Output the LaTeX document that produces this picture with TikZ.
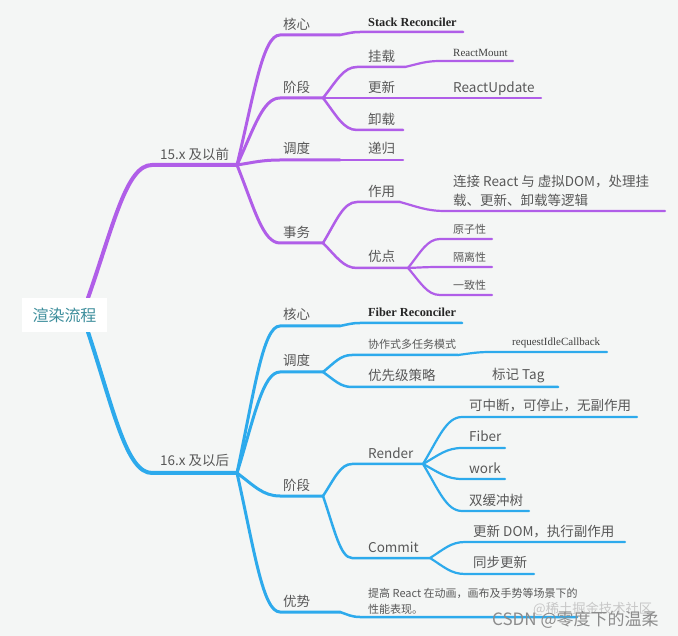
\documentclass[tikz,border=0pt]{standalone}
\usepackage{fontspec}
\setmainfont{Noto Sans CJK SC}
\newfontfamily\cjkf{Noto Sans CJK SC}
\newfontfamily\latserif{Liberation Serif}
\usetikzlibrary{calc}
\definecolor{pur}{HTML}{B05EE8}
\definecolor{blu}{HTML}{2DAAEC}
\definecolor{bgc}{HTML}{F4F6F5}
\definecolor{txt}{HTML}{585858}
\definecolor{rootc}{HTML}{3D8E9C}
\tikzset{
  mm/.style={to path={let \p1=(\tikztostart),\p2=(\tikztotarget) in
     .. controls ({\x1+0.4*(\x2-\x1)},{\y1+0.55*(\y2-\y1)}) and ({\x1+0.6*(\x2-\x1)},\y2) .. (\tikztotarget)}},
  ln/.style={line cap=round, line join=round},
  w0/.style={ln, line width=4pt},
  w1/.style={ln, line width=3pt},
  w2/.style={ln, line width=2.5pt},
  w3/.style={ln, line width=2.2pt},
  lab/.style={anchor=base west, inner sep=0pt, text=txt, font=\cjkf\fontsize{13.5}{16}\selectfont},
  slab/.style={lab, font=\cjkf\fontsize{11}{14}\selectfont},
  bser/.style={anchor=base west, inner sep=0pt, text=black!85, font=\latserif\bfseries\fontsize{12.3}{14}\selectfont},
  rser/.style={anchor=base west, inner sep=0pt, text=black!75, font=\latserif\fontsize{11}{13}\selectfont},
  rootbox/.style={fill=white, minimum width=85pt, minimum height=34pt, inner sep=0pt, text=rootc, font=\cjkf\fontsize{16}{18}\selectfont}
}
\begin{document}
\begin{tikzpicture}[x=1pt,y=-1pt]
\useasboundingbox (0,0) rectangle (678,636);
\fill[bgc] (0,0) rectangle (678,636);

% ---------- coordinates ----------
\coordinate (rt) at (88,298);
\coordinate (rb) at (88,332);
% purple
\coordinate (v1s) at (152,165); \coordinate (v1e) at (237,165);
\coordinate (pk1) at (280,35);  \coordinate (pk2) at (340,35);
\coordinate (pk3) at (360,32);  \coordinate (pk4) at (463,32);
\coordinate (pj1) at (280,98);  \coordinate (pj2) at (323,98);
\coordinate (gz1) at (357,67);  \coordinate (gz2) at (405,67);
\coordinate (rm1) at (440,61);  \coordinate (rm2) at (513,61);
\coordinate (gx2) at (403,98);  \coordinate (ru2) at (541,98);
\coordinate (xz1) at (357,130); \coordinate (xz2) at (403,130);
\coordinate (pd1) at (280,160); \coordinate (pd2) at (340,160); \coordinate (dg2) at (403,160);
\coordinate (sw1) at (280,243); \coordinate (sw2) at (323,243);
\coordinate (zy1) at (357,202); \coordinate (zy2) at (400,202);
\coordinate (lj1) at (445,211); \coordinate (lj2) at (665,211);
\coordinate (yd1) at (357,268); \coordinate (yd2) at (408,268);
\coordinate (yz1) at (440,239); \coordinate (yz2) at (492,239);
\coordinate (gl1) at (440,267); \coordinate (gl2) at (492,267);
\coordinate (yx1) at (440,295); \coordinate (yx2) at (492,295);
% blue
\coordinate (v2s) at (152,473); \coordinate (v2e) at (237,473);
\coordinate (bk1) at (280,326); \coordinate (bk2) at (340,326);
\coordinate (bk3) at (360,323); \coordinate (bk4) at (462,323);
\coordinate (bd1) at (280,372); \coordinate (bd2) at (323,372);
\coordinate (xz3) at (352,355); \coordinate (xz4) at (458,355);
\coordinate (ric1) at (490,352); \coordinate (ric2) at (607,352);
\coordinate (yx3) at (352,387); \coordinate (yx4) at (558,387);
\coordinate (bj1) at (280,496); \coordinate (bj2) at (323,496);
\coordinate (rd1) at (352,464); \coordinate (rd2) at (423,464);
\coordinate (kz1) at (462,417); \coordinate (kz2) at (637,417);
\coordinate (fb1) at (462,448); \coordinate (fb2) at (505,448);
\coordinate (wk1) at (462,479); \coordinate (wk2) at (505,479);
\coordinate (sh1) at (462,511); \coordinate (sh2) at (529,511);
\coordinate (cm1) at (352,558); \coordinate (cm2) at (430,558);
\coordinate (ud1) at (465,542); \coordinate (ud2) at (625,542);
\coordinate (tb1) at (465,574); \coordinate (tb2) at (534,574);
\coordinate (ys1) at (280,612); \coordinate (ys2) at (340,612);
\coordinate (tg1) at (360,617); \coordinate (tg2) at (577,617);

% ---------- purple connectors ----------
\begin{scope}[draw=pur]
\draw[w0] (rt) to[mm] (v1s) -- (v1e);
\draw[w1] (v1e) to[mm] (pk1) -- (pk2);
\draw[w2] (pk2) to[mm] (pk3) -- (pk4);
\draw[w1] (v1e) to[mm] (pj1) -- (pj2);
\draw[w2] (pj2) to[mm] (gz1) -- (gz2);
\draw[w3] (gz2) to[mm] (rm1) -- (rm2);
\draw[w2] (pj2) -- (gx2);
\draw[w3] (gx2) -- (ru2);
\draw[w2] (pj2) to[mm] (xz1) -- (xz2);
\draw[w1] (v1e) to[mm] (pd1) -- (pd2);
\draw[w2] (pd2) -- (dg2);
\draw[w1] (v1e) to[mm] (sw1) -- (sw2);
\draw[w2] (sw2) to[mm] (zy1) -- (zy2);
\draw[w3] (zy2) to[mm] (lj1) -- (lj2);
\draw[w2] (sw2) to[mm] (yd1) -- (yd2);
\draw[w3] (yd2) to[mm] (yz1) -- (yz2);
\draw[w3] (yd2) to[mm] (gl1) -- (gl2);
\draw[w3] (yd2) to[mm] (yx1) -- (yx2);
\end{scope}

% ---------- blue connectors ----------
\begin{scope}[draw=blu]
\draw[w0] (rb) to[mm] (v2s) -- (v2e);
\draw[w1] (v2e) to[mm] (bk1) -- (bk2);
\draw[w2] (bk2) to[mm] (bk3) -- (bk4);
\draw[w1] (v2e) to[mm] (bd1) -- (bd2);
\draw[w2] (bd2) to[mm] (xz3) -- (xz4);
\draw[w3] (xz4) to[mm] (ric1) -- (ric2);
\draw[w2] (bd2) to[mm] (yx3) -- (yx4);
\draw[w1] (v2e) to[mm] (bj1) -- (bj2);
\draw[w2] (bj2) to[mm] (rd1) -- (rd2);
\draw[w3] (rd2) to[mm] (kz1) -- (kz2);
\draw[w3] (rd2) to[mm] (fb1) -- (fb2);
\draw[w3] (rd2) to[mm] (wk1) -- (wk2);
\draw[w3] (rd2) to[mm] (sh1) -- (sh2);
\draw[w2] (bj2) to[mm] (cm1) -- (cm2);
\draw[w3] (cm2) to[mm] (ud1) -- (ud2);
\draw[w3] (cm2) to[mm] (tb1) -- (tb2);
\draw[w1] (v2e) to[mm] (ys1) -- (ys2);
\draw[w2] (ys2) to[mm] (tg1) -- (tg2);
\end{scope}

% ---------- root ----------
\node[rootbox] (root) at (64.5,315) {渲染流程};

% ---------- purple labels ----------
\node[lab] (t15) at (160,160) {15.x 及以前};
\node[lab] (pcore) at (283,30) {核心};
\node[bser] (stack) at (368,27) {Stack Reconciler};
\node[lab] (pstage) at (283,93) {阶段};
\node[lab] (mount) at (368,62) {挂载};
\node[rser] (rmount) at (453,57) {ReactMount};
\node[lab] (upd) at (368,93) {更新};
\node[lab] (rupd) at (453,93) {ReactUpdate};
\node[lab] (unm) at (368,125) {卸载};
\node[lab] (psch) at (283,154) {调度};
\node[lab] (recur) at (368,154) {递归};
\node[lab] (trans) at (283,238) {事务};
\node[lab] (use) at (368,197) {作用};
\node[lab] (conn1) at (453,187) {连接 React 与 虚拟DOM，处理挂};
\node[lab] (conn2) at (453,206) {载、更新、卸载等逻辑};
\node[lab] (adv) at (368,262) {优点};
\node[slab] (atom) at (453,234) {原子性};
\node[slab] (iso) at (453,262) {隔离性};
\node[slab] (cons) at (453,290) {一致性};

% ---------- blue labels ----------
\node[lab] (t16) at (160,466) {16.x 及以后};
\node[lab] (bcore) at (283,320) {核心};
\node[bser] (fiberr) at (368,317) {Fiber Reconciler};
\node[lab] (bsch) at (283,366) {调度};
\node[slab] (coop) at (368,349) {协作式多任务模式};
\node[rser] (ric) at (512,346) {requestIdleCallback};
\node[lab] (prio) at (368,381) {优先级策略};
\node[lab] (tag) at (492,380) {标记 Tag};
\node[lab] (bstage) at (283,490) {阶段};
\node[lab] (render) at (368,458) {Render};
\node[lab] (intr) at (469,411) {可中断，可停止，无副作用};
\node[lab] (fiber) at (469,442) {Fiber};
\node[lab] (work) at (469,474) {work};
\node[lab] (dbl) at (469,505) {双缓冲树};
\node[lab] (commit) at (368,552) {Commit};
\node[lab] (udom) at (473,536) {更新 DOM，执行副作用};
\node[lab] (sync) at (473,567) {同步更新};
\node[lab] (badv) at (283,606) {优势};
\node[slab] (perf1) at (368,597) {提高 React 在动画，画布及手势等场景下的};
\node[slab] (perf2) at (368,613) {性能表现。};

% ---------- watermark ----------
\node[anchor=base west, inner sep=0pt, text=black!22, font=\cjkf\fontsize{13.3}{15}\selectfont] (wm1) at (533,613) {@稀土掘金技术社区};
\node[anchor=base west, inner sep=0pt, text=black!45, font=\cjkf\fontsize{17}{19}\selectfont] (wm2) at (492,625) {CSDN @零度下的温柔};
\end{tikzpicture}
\end{document}
